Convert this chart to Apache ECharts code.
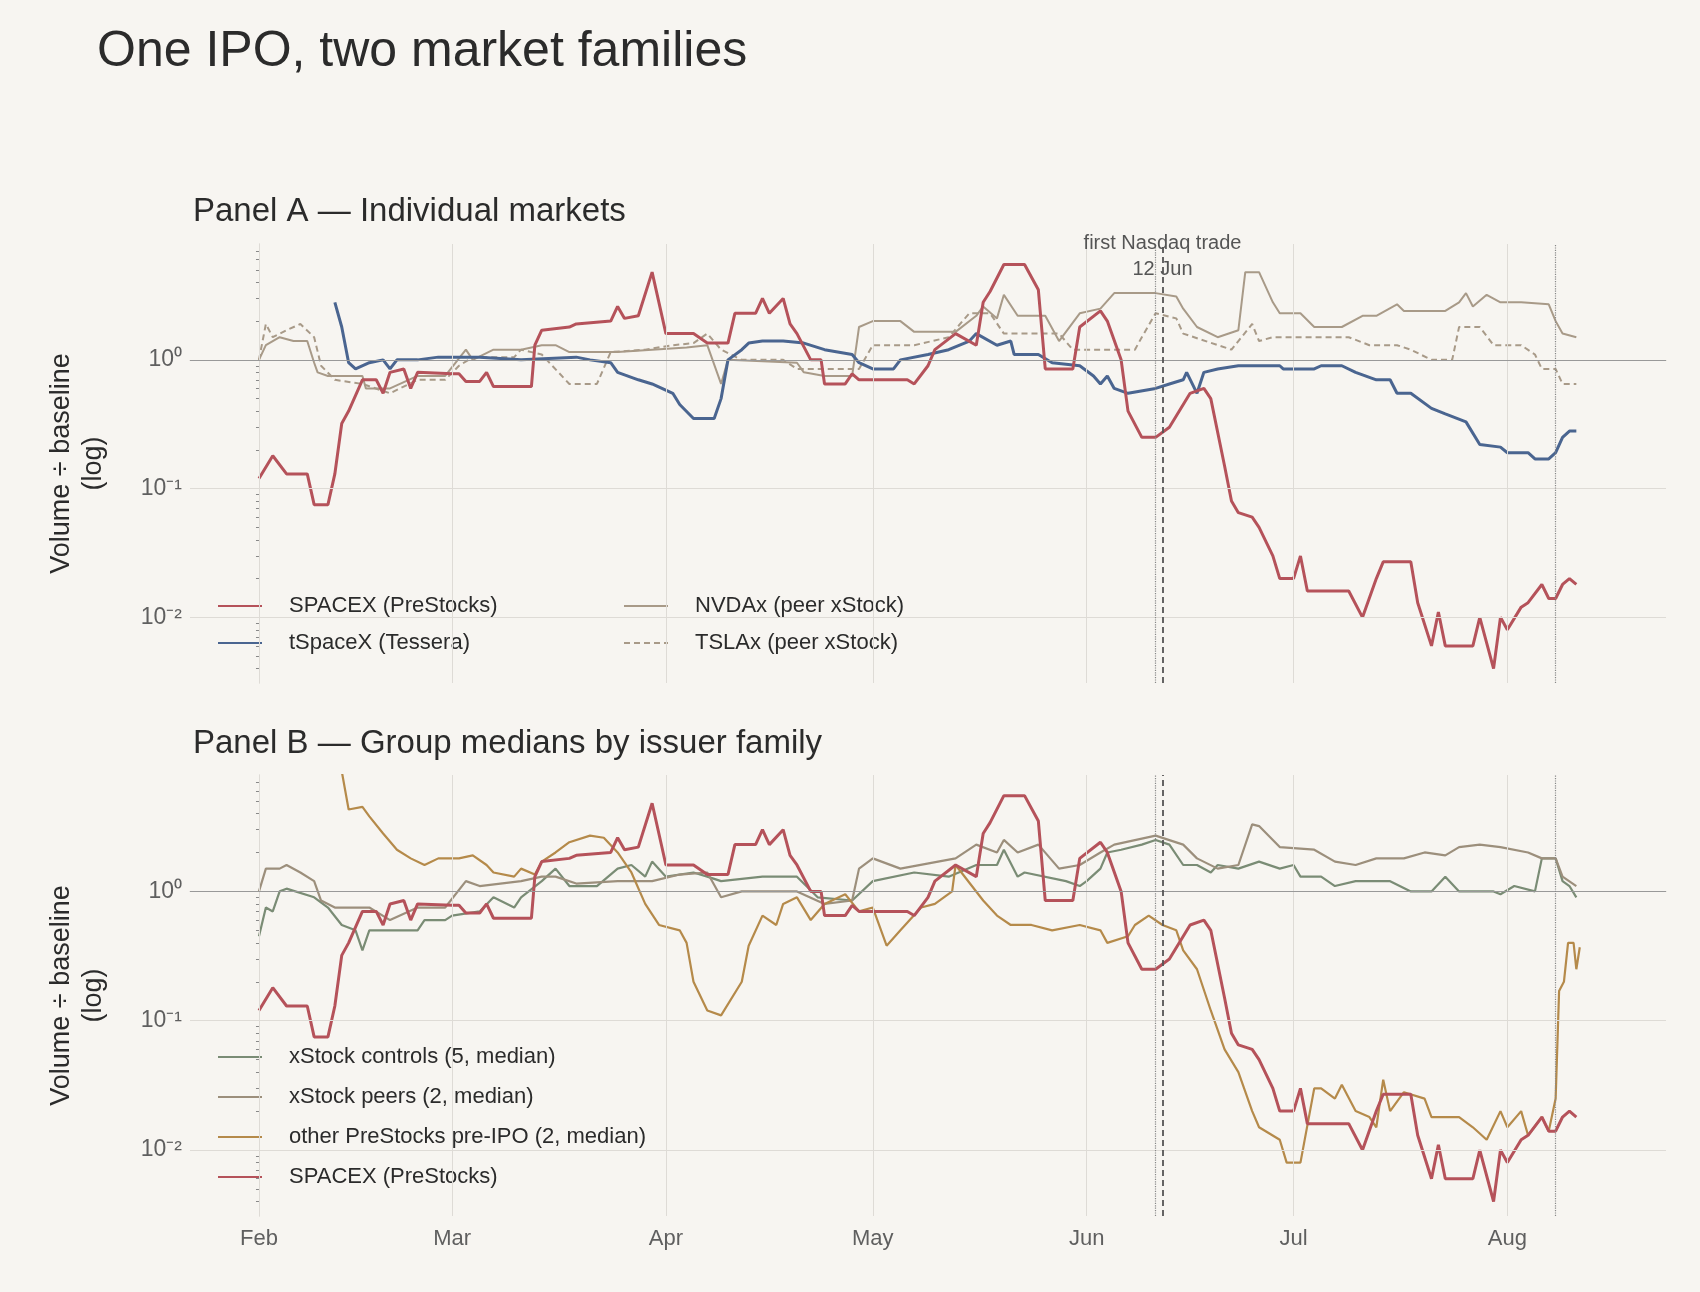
<!DOCTYPE html>
<html><head><meta charset="utf-8">
<script src="https://cdn.jsdelivr.net/npm/echarts@6/dist/echarts.min.js"></script>
<style>html,body{margin:0;background:#f7f5f1}#c{width:1700px;height:1292px}</style>
</head><body><div id="c"></div>
<script>
// day offsets from 1 Feb, value = volume / baseline
const monthDays = [0, 28, 59, 89, 120, 150, 181];
const monthNames = ["Feb", "Mar", "Apr", "May", "Jun", "Jul", "Aug"];
const ipoDay = 131, preDay = 130, lastDay = 188;

const spacex = [[0,.12],[2,.18],[4,.13],[7,.13],[8,.075],[10,.075],[11,.13],[12,.32],[13,.4],[15,.7],[17,.7],[18,.55],[19,.8],[21,.85],[22,.6],[23,.8],[28,.78],[29,.78],[30,.68],[32,.68],[33,.8],[34,.62],[39.5,.62],[40,1.3],[41,1.7],[45,1.8],[46,1.9],[51,2.0],[52,2.6],[53,2.1],[55,2.2],[57,4.8],[59,1.6],[63,1.6],[65,1.35],[68,1.35],[69,2.3],[72,2.3],[73,3.0],[74,2.3],[76,3.0],[77,1.9],[78,1.6],[80,1.0],[81.5,1.0],[82,.65],[85,.65],[86,.78],[87,.7],[94,.7],[95,.65],[97,.9],[98,1.2],[101,1.6],[104,1.3],[105,2.8],[106,3.4],[108,5.5],[111,5.5],[113,3.5],[114,.85],[118,.85],[119,1.8],[122,2.4],[123,2.0],[125,1.0],[126,.4],[128,.25],[130,.25],[132,.3],[135,.55],[137,.6],[138,.5],[140,.15],[141,.08],[142,.065],[144,.06],[145,.05],[147,.03],[148,.02],[150,.02],[151,.03],[152,.016],[158,.016],[160,.01],[162,.02],[163,.027],[167,.027],[168,.013],[170,.006],[171,.011],[172,.006],[176,.006],[177,.01],[179,.004],[180,.01],[181,.008],[183,.012],[184,.013],[186,.018],[187,.014],[188,.014],[189,.018],[190,.02],[191,.018]];
const tspacex = [[11,2.8],[12,1.8],[13,.95],[14,.85],[16,.95],[18,1.0],[19,.85],[20,1.0],[23,1.0],[26,1.05],[32,1.05],[38,1.0],[46,1.05],[48,1.0],[51,.95],[52,.8],[55,.7],[57,.65],[60,.55],[61,.45],[63,.35],[66,.35],[67,.5],[68,1.0],[70,1.2],[71,1.35],[73,1.4],[76,1.4],[79,1.35],[82,1.2],[86,1.1],[87,.95],[89,.85],[92,.85],[93,1.0],[97,1.1],[100,1.2],[103,1.4],[104,1.6],[107,1.3],[109,1.4],[109.5,1.1],[113,1.1],[115,.95],[119,.9],[121,.75],[122,.65],[123,.75],[124,.6],[126,.55],[130,.6],[132,.65],[134,.7],[134.5,.8],[136,.55],[137,.8],[139,.85],[142,.9],[148,.9],[148.5,.85],[153,.85],[154,.9],[157,.9],[159,.8],[162,.7],[164,.7],[165,.55],[167,.55],[170,.42],[172,.38],[175,.33],[177,.22],[180,.21],[181,.19],[184,.19],[185,.17],[186,.17],[187,.17],[188,.19],[189,.25],[190,.28],[191,.28]];
const nvdax = [[0,1.0],[1,1.3],[3,1.5],[5,1.4],[7,1.4],[8,.95],[8.5,.8],[10,.75],[15,.75],[15.5,.6],[19,.6],[23,.75],[27,.75],[30,1.2],[31,1.0],[34,1.2],[38,1.2],[41,1.3],[43,1.3],[45,1.15],[52,1.15],[57,1.2],[62,1.25],[65,1.3],[67,.65],[68,1.0],[78,.95],[79,.8],[82,.75],[86,.75],[87,1.8],[89,2.0],[93,2.0],[95,1.65],[101,1.65],[104,2.2],[105,2.6],[107,2.1],[108,3.2],[110,2.2],[114,2.2],[116,1.4],[119,2.3],[122,2.5],[124,3.3],[130,3.3],[133,3.1],[134,2.5],[136,1.8],[139,1.5],[142,1.7],[143,4.8],[145,4.8],[147,2.8],[148,2.3],[151,2.3],[153,1.8],[157,1.8],[160,2.2],[162,2.2],[165,2.7],[166,2.4],[172,2.4],[174,2.8],[175,3.3],[176,2.6],[178,3.2],[180,2.8],[183,2.8],[187,2.7],[188,2.0],[189,1.6],[191,1.5]];
const tslax = [[0,1.0],[1,1.9],[2,1.5],[4,1.7],[6,1.9],[8,1.5],[9,.9],[11,.7],[15,.65],[19,.55],[23,.7],[27,.7],[29,.9],[31,1.05],[37,1.05],[38,1.2],[41,1.1],[45,.65],[49,.65],[51,1.15],[56,1.2],[60,1.3],[63,1.35],[65,1.6],[67,1.2],[70,1.0],[76,1.0],[78,.85],[87,.85],[89,1.3],[95,1.3],[100,1.5],[103,2.3],[106,2.3],[108,1.6],[116,1.6],[118,1.2],[127,1.2],[128,1.5],[130,2.3],[133,2.1],[134,1.6],[141,1.2],[142,1.4],[144,1.9],[145,1.4],[147,1.5],[158,1.5],[161,1.3],[165,1.3],[167,1.2],[170,1.0],[173,1.0],[174,1.8],[177,1.8],[179,1.3],[183,1.3],[185,1.1],[186,.85],[188,.85],[189,.65],[191,.65]];
const controls = [[0,.45],[1,.75],[2,.7],[3,1.0],[4,1.05],[8,.9],[10,.75],[12,.55],[14,.5],[15,.35],[16,.5],[23,.5],[24,.6],[27,.6],[28,.65],[32,.7],[34,.9],[37,.75],[38,.9],[41,1.2],[43,1.5],[45,1.1],[49,1.1],[52,1.5],[54,1.6],[56,1.3],[57,1.7],[59,1.3],[63,1.4],[65,1.3],[67,1.2],[73,1.3],[78,1.3],[81,.9],[86,.85],[89,1.2],[95,1.4],[100,1.3],[104,1.6],[107,1.6],[108,2.1],[110,1.3],[111,1.4],[117,1.2],[119,1.1],[120,1.2],[122,1.5],[123,2.0],[125,2.1],[128,2.3],[130,2.5],[132,2.3],[134,1.6],[136,1.6],[138,1.4],[139,1.6],[142,1.5],[145,1.7],[148,1.5],[150,1.6],[151,1.3],[154,1.3],[156,1.1],[159,1.2],[164,1.2],[167,1.0],[170,1.0],[172,1.3],[174,1.0],[179,1.0],[180,.95],[182,1.1],[185,1.0],[186,1.8],[188,1.8],[189,1.2],[190,1.1],[191,.9]];
const peers = [[0,1.0],[1,1.5],[3,1.5],[4,1.6],[6,1.4],[8,1.2],[9,.85],[11,.75],[16,.75],[19,.6],[23,.75],[27,.75],[30,1.2],[32,1.1],[38,1.2],[41,1.3],[43,1.3],[46,1.15],[52,1.2],[57,1.2],[61,1.35],[65,1.4],[67,.9],[70,1.0],[78,1.0],[82,.8],[86,.85],[87,1.5],[89,1.8],[93,1.5],[101,1.8],[104,2.3],[107,2.0],[108,2.5],[110,2.0],[113,2.3],[116,1.5],[119,1.6],[122,2.0],[124,2.3],[130,2.7],[134,2.3],[136,1.8],[139,1.5],[142,1.6],[144,3.3],[145,3.2],[147,2.5],[148,2.2],[153,2.1],[156,1.7],[159,1.6],[162,1.8],[166,1.8],[169,2.0],[172,1.9],[174,2.2],[177,2.3],[180,2.2],[184,2.0],[186,1.8],[188,1.8],[189,1.3],[191,1.1]];
const otherPre = [[12,8.5],[13,4.3],[15,4.5],[16,3.8],[18,2.8],[20,2.1],[22,1.8],[24,1.6],[26,1.8],[29,1.8],[31,1.9],[33,1.6],[34,1.4],[37,1.3],[38,1.5],[40,1.35],[41,1.7],[43,2.0],[45,2.4],[48,2.7],[50,2.6],[52,2.0],[54,1.4],[56,.8],[58,.55],[61,.5],[62,.4],[63,.2],[65,.12],[67,.11],[70,.2],[71,.38],[73,.65],[75,.55],[76,.8],[78,.9],[80,.6],[82,.8],[85,.95],[87,.7],[89,.75],[91,.38],[93,.5],[96,.75],[98,.8],[100.5,1.0],[101,1.6],[105,.85],[107,.65],[109,.55],[112,.55],[115,.5],[119,.55],[122,.5],[123,.4],[126,.45],[127,.55],[129,.65],[131,.55],[133,.5],[134,.35],[136,.25],[138,.12],[140,.06],[142,.04],[144,.02],[145,.015],[148,.012],[149,.008],[151,.008],[153,.03],[154,.03],[156,.025],[157,.032],[159,.02],[161,.018],[162,.015],[163,.035],[164,.02],[166,.028],[169,.025],[170,.018],[174,.018],[176,.015],[178,.012],[180,.02],[181,.015],[183,.02],[184,.013],[186,.018],[187,.014],[188,.025],[188.5,.17],[189.2,.2],[189.8,.4],[190.6,.4],[191,.25],[191.5,.37]];

const C = { red: "#b5525a", blue: "#4a6590", tan: "#a89a88", green: "#7a8c75", peer: "#9c8f7c", ochre: "#b58a4a", txt: "#2b2b2b", tick: "#5f5f5f", grid: "#dedbd6" };
const toLog = arr => arr.map(p => [p[0], Math.log10(p[1])]);

const minorTicks = [];
for (let n = -3; n <= 0; n++) for (let k = 1; k <= 9; k++) {
  const v = n + Math.log10(k);
  if (v > -2.51 && v < 0.9) minorTicks.push(v);
}
const supers = { "0": "10⁰", "-1": "10⁻¹", "-2": "10⁻²" };

const grids = [
  { left: 190, right: 34, top: 244, height: 439 },
  { left: 190, right: 34, top: 775, height: 441 }
];
const xAxes = grids.map((g, i) => ({
  type: "value", gridIndex: i, min: -10, max: 204,
  axisLine: { show: true, lineStyle: { color: "#cfcbc5" } },
  axisTick: { show: true, customValues: monthDays, length: 5, lineStyle: { color: "#888" } },
  axisLabel: { show: i === 1, customValues: monthDays, color: C.tick, fontSize: 22, margin: 12,
    formatter: v => monthNames[monthDays.indexOf(v)] },
  splitLine: { show: false }
}));
const yAxes = grids.map((g, i) => ({
  type: "value", gridIndex: i, min: -2.51, max: 0.9,
  name: "Volume ÷ baseline\n(log)", nameLocation: "middle", nameGap: 80,
  nameTextStyle: { fontSize: 27, color: C.txt, lineHeight: 32 },
  axisLine: { show: true, lineStyle: { color: "#cfcbc5" } },
  axisTick: { show: true, customValues: minorTicks, length: 3, inside: false, lineStyle: { color: "#888" } },
  axisLabel: { customValues: [-2, -1, 0], color: C.tick, fontSize: 23, formatter: v => supers[String(Math.round(v))] },
  splitLine: { show: false }
}));

function gridLines() {
  const d = [];
  monthDays.forEach(m => d.push({ xAxis: m }));
  [-2, -1].forEach(v => d.push({ yAxis: v }));
  return d;
}
function line(name, data, color, i, extra) {
  return Object.assign({
    name, type: "line", xAxisIndex: i, yAxisIndex: i, data: toLog(data),
    showSymbol: false, symbol: "none", color,
    lineStyle: { color, width: 2.2 }, z: 3, animation: false
  }, extra || {});
}
function refLines(i, first) {
  return {
    type: "line", xAxisIndex: i, yAxisIndex: i, data: [], silent: true, animation: false,
    markLine: {
      silent: true, symbol: "none", animation: false,
      data: [
        ...gridLines().map(d => Object.assign(d, { lineStyle: { color: C.grid, width: 1, type: "solid" }, label: { show: false } })),
        { yAxis: 0, lineStyle: { color: "#999", width: 1.2, type: "solid" }, label: { show: false } },
        { xAxis: preDay, lineStyle: { color: "#888", width: 1.2, type: "dotted" }, label: { show: false } },
        { xAxis: lastDay, lineStyle: { color: "#888", width: 1.2, type: "dotted" }, label: { show: false } },
        { xAxis: ipoDay, lineStyle: { color: "#555", width: 1.8, type: [6, 4] },
          label: first ? { show: true, position: "end", formatter: "first Nasdaq trade\n12 Jun", color: "#555", fontSize: 20, lineHeight: 26, distance: -38 } : { show: false } }
      ]
    }
  };
}

const series = [
  refLines(0, true), refLines(1, false),
  line("NVDAx (peer xStock)", nvdax, C.tan, 0, { lineStyle: { color: C.tan, width: 2 } }),
  line("TSLAx (peer xStock)", tslax, C.tan, 0, { lineStyle: { color: C.tan, width: 2, type: [6, 4] } }),
  line("tSpaceX (Tessera)", tspacex, C.blue, 0, { lineStyle: { color: C.blue, width: 3 } }),
  line("SPACEX (PreStocks)", spacex, C.red, 0, { lineStyle: { color: C.red, width: 3 }, z: 4 }),
  line("xStock controls (5, median)", controls, C.green, 1),
  line("xStock peers (2, median)", peers, C.peer, 1),
  line("other PreStocks pre-IPO (2, median)", otherPre, C.ochre, 1),
  line("SPACEX (PreStocks) ", spacex, C.red, 1, { lineStyle: { color: C.red, width: 3 }, z: 4 })
];

const legendBase = { orient: "vertical", itemWidth: 44, itemHeight: 14, itemGap: 15,
  itemStyle: { opacity: 0 },
  textStyle: { fontSize: 22, color: C.txt, padding: [0, 0, 0, 22] }, selectedMode: false };

const chart = echarts.init(document.getElementById("c"));
chart.setOption({
  backgroundColor: "#f7f5f1",
  textStyle: { fontFamily: "Arial, 'Liberation Sans', sans-serif" },
  title: [
    { text: "One IPO, two market families", left: 92, top: 22, textStyle: { fontSize: 50, fontWeight: "normal", color: C.txt } },
    { text: "Panel A — Individual markets", left: 188, top: 190, textStyle: { fontSize: 33, fontWeight: "normal", color: C.txt } },
    { text: "Panel B — Group medians by issuer family", left: 188, top: 722, textStyle: { fontSize: 33, fontWeight: "normal", color: C.txt } }
  ],
  grid: grids,
  xAxis: xAxes,
  yAxis: yAxes,
  legend: [
    Object.assign({}, legendBase, { left: 212, top: 590, data: ["SPACEX (PreStocks)", "tSpaceX (Tessera)"] }),
    Object.assign({}, legendBase, { left: 618, top: 590, data: ["NVDAx (peer xStock)", "TSLAx (peer xStock)"] }),
    Object.assign({}, legendBase, { left: 212, top: 1041, itemGap: 18, data: ["xStock controls (5, median)", "xStock peers (2, median)", "other PreStocks pre-IPO (2, median)", "SPACEX (PreStocks) "] })
  ],
  series
});
</script></body></html>
